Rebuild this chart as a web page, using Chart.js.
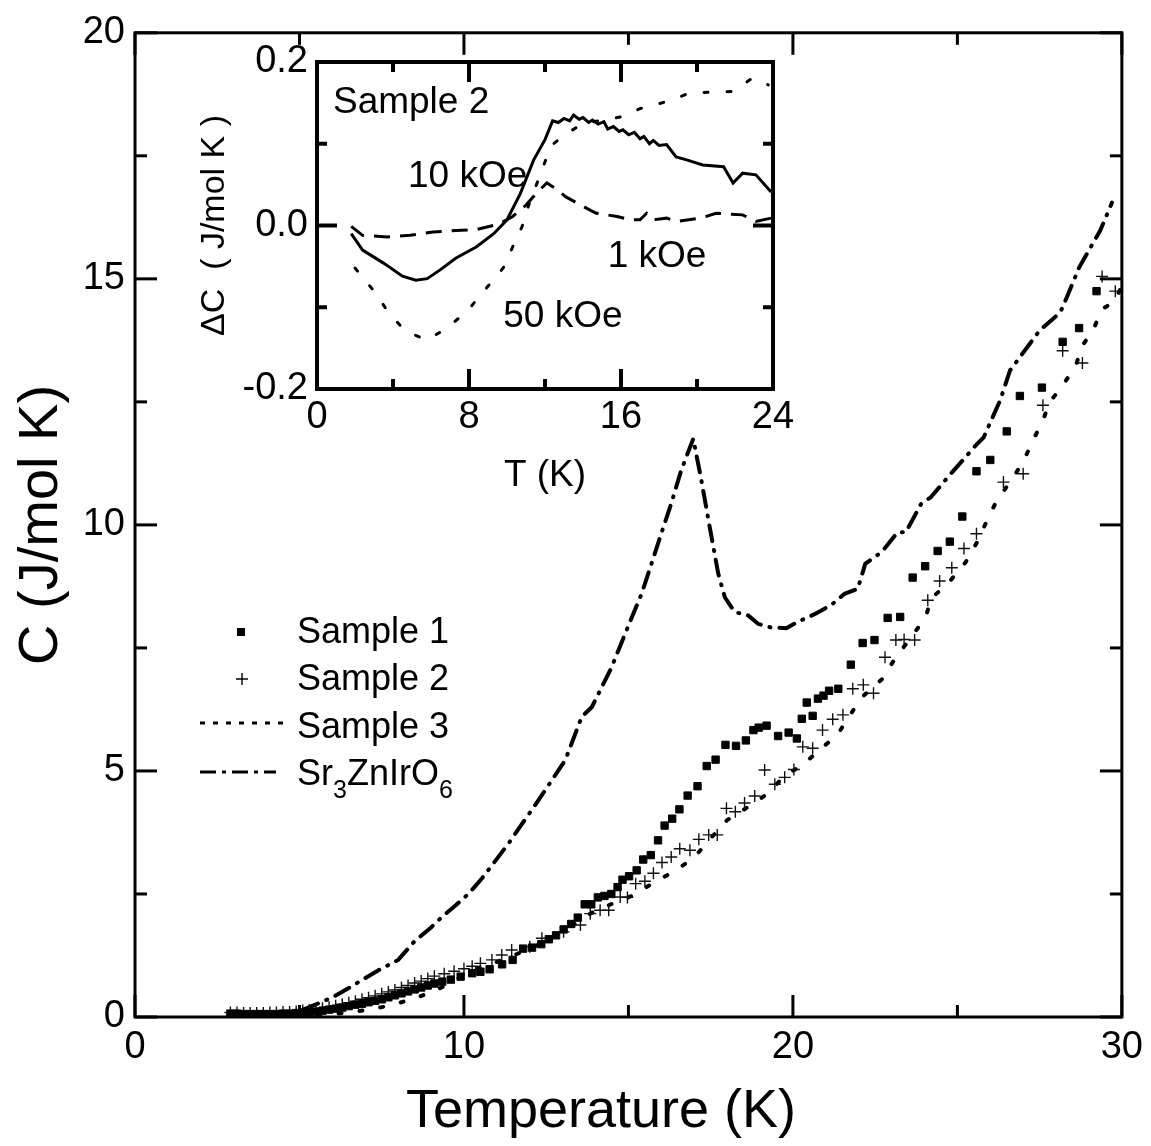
<!DOCTYPE html>
<html>
<head>
<meta charset="utf-8">
<script src="https://cdn.jsdelivr.net/npm/chart.js@4.4.0/dist/chart.umd.min.js"></script>
<style>
  html, body { margin: 0; padding: 0; background: #fff; }
  #wrap { position: relative; width: 1151px; height: 1146px; }
  #main { position: absolute; left: 0; top: 0; }
  #inset { position: absolute; left: 190px; top: 30px; }
</style>
</head>
<body>
<div id="wrap">
  <canvas id="main" width="1151" height="1146"></canvas>
  <canvas id="inset" width="620" height="480"></canvas>
</div>
<script>
const FONT = '"Liberation Sans", Arial, sans-serif';

// ---------- main plot: C vs T ----------
const s1T = [2.9, 3.1, 3.3, 3.5, 3.7, 3.9, 4.1, 4.3, 4.5, 4.7, 4.9, 5.1, 5.3, 5.5, 5.7, 5.9, 6.1, 6.3, 6.5, 6.7, 6.9, 7.1, 7.3, 7.5, 7.7, 7.9, 8.1, 8.3, 8.5, 8.7, 8.9, 9.1,
  9.34, 9.6, 9.9, 10.25, 10.5, 10.78, 11.16, 11.48, 11.8, 12.07, 12.35, 12.58, 12.8, 13.03, 13.26, 13.46, 13.67, 13.87, 14.07, 14.27, 14.48, 14.67, 14.82, 15.02,
  15.25, 15.45, 15.68, 15.9, 16.1, 16.33, 16.55, 16.8, 17.1, 17.38, 17.65, 17.95, 18.27, 18.57, 18.8, 18.96, 19.2, 19.55, 19.87, 20.12, 20.27, 20.42, 20.6, 20.76,
  20.93, 21.1, 21.38, 21.76, 22.12, 22.48, 22.88, 23.26, 23.64, 24.02, 24.4, 24.77, 25.15, 25.58, 26.0, 26.5, 26.9, 27.57, 28.2, 28.7, 29.23];
const s1C = [0.07, 0.07, 0.06, 0.06, 0.06, 0.06, 0.06, 0.06, 0.07, 0.07, 0.08, 0.09, 0.10, 0.11, 0.13, 0.15, 0.17, 0.19, 0.22, 0.25, 0.27, 0.30, 0.33, 0.36, 0.40, 0.44, 0.48, 0.52, 0.56, 0.60, 0.64, 0.68,
  0.72, 0.76, 0.82, 0.89, 0.92, 0.97, 1.07, 1.16, 1.39, 1.41, 1.48, 1.58, 1.66, 1.78, 1.89, 2.02, 2.29, 2.29, 2.43, 2.46, 2.50, 2.64, 2.79, 2.86,
  2.98, 3.20, 3.29, 3.59, 3.89, 4.03, 4.22, 4.50, 4.69, 5.10, 5.23, 5.53, 5.51, 5.62, 5.83, 5.88, 5.92, 5.71, 5.78, 5.66, 6.06, 6.39, 6.12, 6.47,
  6.53, 6.63, 6.67, 7.16, 7.60, 7.66, 8.11, 8.13, 8.93, 9.16, 9.47, 9.66, 10.17, 11.09, 11.32, 11.90, 12.62, 12.79, 13.72, 14.00, 14.75];

const s2T = [2.9, 3.1, 3.3, 3.5, 3.7, 3.9, 4.1, 4.3, 4.5, 4.7, 4.9, 5.1, 5.3, 5.5, 5.7, 5.9, 6.1, 6.3, 6.5, 6.7, 6.9, 7.1, 7.3, 7.5, 7.7, 7.9, 8.1, 8.3, 8.5, 8.7, 8.9, 9.1,
  9.4, 9.7, 10.0, 10.25, 10.5, 10.85, 11.15, 11.45, 12.0, 12.37, 13.03, 13.54, 13.84, 14.14, 14.4, 14.75, 14.97, 15.22, 15.5, 15.76, 16.02, 16.3, 16.56, 16.87,
  17.14, 17.44, 17.7, 17.98, 18.25, 18.53, 18.84, 19.14, 19.45, 19.75, 20.03, 20.3, 20.6, 20.9, 21.21, 21.52, 21.82, 22.14, 22.45, 22.8, 23.13, 23.38, 23.7,
  24.1, 24.46, 24.83, 25.2, 25.58, 26.4, 27.0, 27.6, 28.2, 28.8, 29.4, 29.8];
const s2C = [0.09, 0.09, 0.08, 0.08, 0.08, 0.08, 0.09, 0.09, 0.10, 0.10, 0.11, 0.13, 0.14, 0.16, 0.18, 0.20, 0.23, 0.26, 0.29, 0.32, 0.36, 0.39, 0.43, 0.47, 0.51, 0.55, 0.60, 0.64, 0.69, 0.73, 0.78, 0.83,
  0.88, 0.93, 0.98, 1.03, 1.09, 1.16, 1.26, 1.36, 1.43, 1.60, 1.73, 1.87, 2.10, 2.17, 2.17, 2.44, 2.43, 2.71, 2.76, 2.92, 3.14, 3.25, 3.42, 3.39,
  3.61, 3.70, 3.70, 4.24, 4.17, 4.35, 4.49, 5.02, 4.73, 4.87, 5.03, 5.49, 5.46, 5.83, 6.05, 6.14, 6.67, 6.75, 6.58, 7.31, 7.66, 7.67, 7.66,
  8.47, 8.86, 9.13, 9.52, 9.82, 10.87, 11.04, 12.43, 13.54, 13.29, 15.05, 14.75];

const s3T = [3.0, 4.0, 5.0, 5.5, 6.0, 6.5, 7.0, 7.5, 8.0, 8.5, 9.0, 9.5, 9.85, 10.2, 10.85, 11.5, 12.2, 13.0, 13.5, 13.84, 14.5, 15.1, 15.7, 16.36, 16.97,
  17.5, 18.0, 18.64, 19.24, 19.75, 20.3, 20.86, 21.34, 21.7, 22.1, 22.7, 23.1, 23.6, 24.04, 24.2, 24.75, 25.25, 25.6, 25.9, 26.2, 26.6, 27.0, 27.3, 27.6,
  27.8, 28.2, 28.6, 28.8, 29.14, 29.4, 29.75, 30.0];
const s3C = [0.02, 0.02, 0.03, 0.04, 0.06, 0.09, 0.14, 0.20, 0.28, 0.38, 0.50, 0.66, 0.79, 0.95, 1.08, 1.25, 1.45, 1.72, 1.95, 2.10, 2.30, 2.46, 2.70, 2.95, 3.22,
  3.63, 4.00, 4.27, 4.54, 4.91, 5.12, 5.46, 5.72, 6.10, 6.50, 6.86, 7.28, 7.72, 8.13, 8.50, 8.84, 9.24, 9.65, 10.09, 10.50, 10.87, 11.28, 11.72, 12.12,
  12.49, 12.83, 13.24, 13.64, 13.98, 14.39, 14.52, 14.85];

const srT = [3.0, 4.0, 4.6, 5.0, 5.3, 6.0, 6.5, 7.4, 8.0, 8.5, 9.0, 9.34, 9.75, 10.15, 10.55, 10.86, 11.36, 11.77, 12.2, 12.47, 13.08, 13.58, 13.89, 14.49,
  14.9, 15.4, 15.7, 16.0, 16.3, 16.6, 16.97, 17.2, 17.47, 17.73, 17.93, 18.23, 18.64, 18.94, 19.3, 19.8, 20.15, 20.7, 21.16, 21.57, 21.97, 22.2, 22.7,
  23.18, 23.43, 23.9, 24.19, 24.8, 25.2, 25.55, 25.8, 26.3, 26.6, 26.9, 27.5, 28.13, 28.33, 28.7, 29.34, 29.7];
const srC = [0.03, 0.05, 0.08, 0.12, 0.20, 0.40, 0.59, 0.95, 1.16, 1.54, 1.82, 2.04, 2.27, 2.51, 2.82, 3.09, 3.53, 3.93, 4.34, 4.61, 5.22, 6.10, 6.30, 7.11,
  7.79, 8.60, 9.21, 9.83, 10.43, 11.10, 11.75, 10.97, 9.96, 9.01, 8.53, 8.23, 8.16, 7.99, 7.92, 7.90, 8.03, 8.20, 8.37, 8.60, 8.70, 9.21, 9.45,
  9.85, 9.85, 10.43, 10.56, 11.04, 11.34, 11.61, 11.78, 12.53, 13.14, 13.41, 13.95, 14.32, 14.63, 15.23, 15.98, 16.55];

const mainXMajor = [0, 10, 20, 30];
const mainXMinor = [5, 15, 25];
const mainYMajor = [0, 5, 10, 15, 20];
const mainYMinor = [2.5, 7.5, 12.5, 17.5];

// ---------- inset: delta C vs T (Sample 2) ----------
const in10T = [1.8, 2.4, 3.5, 4.5, 5.2, 5.8, 6.5, 7.3, 8.4, 9.3, 10.0, 10.7, 11.4, 12.0, 12.4, 12.7, 13.0, 13.3, 13.5, 13.8, 14.0, 14.3, 14.5, 14.8, 15.1,
  15.3, 15.6, 15.9, 16.1, 16.4, 16.7, 17.0, 17.2, 17.5, 17.7, 18.0, 18.4, 18.9, 19.5, 20.3, 21.4, 21.9, 22.4, 23.1, 23.9];
const in10C = [-0.010, -0.030, -0.046, -0.062, -0.067, -0.065, -0.054, -0.040, -0.026, -0.010, 0.007, 0.039, 0.080, 0.105, 0.128, 0.126, 0.131, 0.128, 0.135, 0.130, 0.132, 0.126, 0.129, 0.124, 0.127,
  0.118, 0.121, 0.115, 0.117, 0.111, 0.114, 0.106, 0.109, 0.100, 0.104, 0.098, 0.099, 0.084, 0.080, 0.074, 0.072, 0.052, 0.064, 0.062, 0.041];

const in1T = [1.8, 2.4, 3.7, 4.9, 6.1, 7.3, 8.4, 9.6, 10.3, 11.0, 11.6, 12.1, 12.5, 13.1, 14.2, 14.7, 15.8, 16.5, 17.0, 17.35, 17.7, 18.4, 18.9, 20.2, 21.0, 22.4, 23.1, 23.9];
const in1C = [-0.001, -0.012, -0.014, -0.012, -0.008, -0.006, -0.005, 0.002, 0.011, 0.025, 0.041, 0.052, 0.046, 0.035, 0.021, 0.015, 0.011, 0.007, 0.007, 0.015, 0.007, 0.009, 0.005, 0.009, 0.015, 0.013, 0.005, 0.009];

const in50T = [2.0, 3.1, 3.8, 4.7, 5.8, 6.8, 7.9, 8.9, 9.8, 10.3, 10.8, 11.2, 11.65, 12.1, 12.45, 13.05, 14.0, 15.1, 16.0, 17.0, 18.0, 18.6, 19.6, 20.7, 21.9, 22.9, 23.75];
const in50C = [-0.052, -0.083, -0.108, -0.130, -0.140, -0.126, -0.105, -0.077, -0.052, -0.026, -0.001, 0.029, 0.056, 0.084, 0.100, 0.111, 0.125, 0.129, 0.133, 0.143, 0.149, 0.153, 0.162, 0.163, 0.164, 0.180, 0.172];

const inXMajor = [0, 8, 16, 24];
const inXMinor = [4, 12, 20];
const inYMajor = [-0.2, 0, 0.2];
const inYMinor = [-0.1, 0.1];

// text placed in the inset, anchored in data units (left edge, baseline)
const inNotes = [
  { text: 'Sample 2', x: 0.84, y: 0.138 },
  { text: '10 kOe', x: 4.79, y: 0.047 },
  { text: '1 kOe', x: 15.3, y: -0.051 },
  { text: '50 kOe', x: 9.8, y: -0.124 }
];

const pts = (xs, ys) => xs.map((x, i) => ({ x: x, y: ys[i] }));

// inward ticks on all four sides + box frame
const frameTicks = {
  id: 'frameTicks',
  afterDatasetsDraw(chart, args, o) {
    const { ctx, chartArea: a } = chart;
    const x = chart.scales.x, y = chart.scales.y;
    ctx.save();
    ctx.strokeStyle = '#000';
    ctx.lineWidth = o.tickWidth;
    ctx.lineCap = 'butt';
    const seg = (x1, y1, x2, y2) => { ctx.beginPath(); ctx.moveTo(x1, y1); ctx.lineTo(x2, y2); ctx.stroke(); };
    const xt = (vals, len) => vals.forEach(v => {
      const p = x.getPixelForValue(v);
      seg(p, a.bottom, p, a.bottom - len);
      seg(p, a.top, p, a.top + len);
    });
    const yt = (vals, len) => vals.forEach(v => {
      const p = y.getPixelForValue(v);
      seg(a.left, p, a.left + len, p);
      seg(a.right, p, a.right - len, p);
    });
    xt(o.xMajor, o.major); xt(o.xMinor, o.minor);
    yt(o.yMajor, o.major); yt(o.yMinor, o.minor);
    ctx.lineWidth = o.frameWidth;
    ctx.strokeRect(a.left, a.top, a.right - a.left, a.bottom - a.top);
    ctx.restore();
  }
};

// hand-made legend like the original figure, plus the x title
const legendBox = {
  id: 'legendBox',
  afterDraw(chart) {
    const ctx = chart.ctx;
    ctx.save();
    ctx.fillStyle = '#000';
    ctx.strokeStyle = '#000';
    // sample 1: square
    ctx.fillRect(237, 628, 8, 8);
    // sample 2: plus
    ctx.lineWidth = 1.4;
    ctx.beginPath();
    ctx.moveTo(236, 679); ctx.lineTo(248, 679);
    ctx.moveTo(242, 673); ctx.lineTo(242, 685);
    ctx.stroke();
    // sample 3: dotted
    ctx.lineWidth = 3;
    ctx.setLineDash([5, 8]);
    ctx.beginPath(); ctx.moveTo(200, 723); ctx.lineTo(286, 723); ctx.stroke();
    // Sr3ZnIrO6: dash-dot
    ctx.setLineDash([16, 6, 4, 6]);
    ctx.beginPath(); ctx.moveTo(200, 772); ctx.lineTo(276, 772); ctx.stroke();
    ctx.setLineDash([]);

    ctx.font = '36px ' + FONT;
    ctx.textBaseline = 'alphabetic';
    ctx.textAlign = 'left';
    ctx.fillText('Sample 1', 297, 643);
    ctx.fillText('Sample 2', 297, 690);
    ctx.fillText('Sample 3', 297, 738);
    let cx = 297;
    const part = (t, size, dy) => {
      ctx.font = size + 'px ' + FONT;
      ctx.fillText(t, cx, 785 + dy);
      cx += ctx.measureText(t).width;
    };
    part('Sr', 36, 0); part('3', 25, 13); part('ZnIrO', 36, 0); part('6', 25, 13);

    // x axis title
    ctx.font = '54px ' + FONT;
    ctx.textAlign = 'center';
    ctx.textBaseline = 'middle';
    ctx.fillText('Temperature (K)', 601, 1112);
    ctx.restore();
  }
};

const notes = {
  id: 'notes',
  afterDraw(chart) {
    const ctx = chart.ctx;
    ctx.save();
    ctx.fillStyle = '#000';
    ctx.font = '37px ' + FONT;
    ctx.textAlign = 'left';
    ctx.textBaseline = 'alphabetic';
    inNotes.forEach(n => ctx.fillText(n.text, chart.scales.x.getPixelForValue(n.x), chart.scales.y.getPixelForValue(n.y)));
    ctx.restore();
  }
};

new Chart(document.getElementById('main'), {
  type: 'scatter',
  data: {
    datasets: [
      { label: 'Sample 1', data: pts(s1T, s1C), pointStyle: 'rect', pointRadius: 5.2, backgroundColor: '#000', borderColor: '#000', borderWidth: 1, showLine: false },
      { label: 'Sample 2', data: pts(s2T, s2C), pointStyle: 'cross', pointRadius: 6, borderColor: '#111', borderWidth: 1.4, showLine: false },
      { label: 'Sample 3', data: pts(s3T, s3C), showLine: true, pointRadius: 0, borderColor: '#000', borderWidth: 4, borderDash: [3, 18], borderCapStyle: 'round', tension: 0 },
      { label: 'Sr3ZnIrO6', data: pts(srT, srC), showLine: true, pointRadius: 0, borderColor: '#000', borderWidth: 4, borderDash: [16, 9, 1, 9], borderCapStyle: 'round', tension: 0 }
    ]
  },
  options: {
    responsive: false,
    animation: false,
    layout: { padding: { top: 32, right: 26, left: 0, bottom: 0 } },
    plugins: {
      legend: { display: false },
      tooltip: { enabled: false },
      frameTicks: { xMajor: mainXMajor, xMinor: mainXMinor, yMajor: mainYMajor, yMinor: mainYMinor, major: 22, minor: 12, tickWidth: 3, frameWidth: 3 }
    },
    scales: {
      x: {
        type: 'linear', min: 0, max: 30,
        ticks: { stepSize: 10, color: '#000', font: { family: FONT, size: 38 }, padding: 8 },
        grid: { display: false, drawTicks: false },
        border: { display: false },
        title: { display: false },
        afterFit(s) { s.height = 129; }
      },
      y: {
        type: 'linear', min: 0, max: 20,
        ticks: { stepSize: 5, color: '#000', font: { family: FONT, size: 38 }, padding: 10 },
        grid: { display: false, drawTicks: false },
        border: { display: false },
        title: { display: true, text: 'C (J/mol K)', color: '#000', font: { family: FONT, size: 56 }, padding: { top: 8, bottom: 0 } },
        afterFit(s) { s.width = 135; }
      }
    }
  },
  plugins: [frameTicks, legendBox]
});

new Chart(document.getElementById('inset'), {
  type: 'scatter',
  data: {
    datasets: [
      { label: '10 kOe', data: pts(in10T, in10C), showLine: true, pointRadius: 0, borderColor: '#000', borderWidth: 3, tension: 0 },
      { label: '1 kOe', data: pts(in1T, in1C), showLine: true, pointRadius: 0, borderColor: '#000', borderWidth: 3, borderDash: [16, 10], tension: 0 },
      { label: '50 kOe', data: pts(in50T, in50C), showLine: true, pointRadius: 0, borderColor: '#000', borderWidth: 3, borderDash: [4, 19], borderCapStyle: 'round', tension: 0 }
    ]
  },
  options: {
    responsive: false,
    animation: false,
    layout: { padding: { top: 32, right: 37, left: 0, bottom: 0 } },
    plugins: {
      legend: { display: false },
      tooltip: { enabled: false },
      frameTicks: { xMajor: inXMajor, xMinor: inXMinor, yMajor: inYMajor, yMinor: inYMinor, major: 20, minor: 10, tickWidth: 4, frameWidth: 4 }
    },
    scales: {
      x: {
        type: 'linear', min: 0, max: 24,
        ticks: { stepSize: 8, color: '#000', font: { family: FONT, size: 38 }, padding: 6 },
        grid: { display: false, drawTicks: false },
        border: { display: false },
        title: { display: true, text: 'T (K)', color: '#000', font: { family: FONT, size: 37 }, padding: { top: 0, bottom: 12 } },
        afterFit(s) { s.height = 121; }
      },
      y: {
        type: 'linear', min: -0.2, max: 0.2,
        ticks: { stepSize: 0.2, color: '#000', font: { family: FONT, size: 38 }, padding: 9, callback: v => v.toFixed(1) },
        grid: { display: false, drawTicks: false },
        border: { display: false },
        title: { display: true, text: '\u0394C  ( J/mol K )', color: '#000', font: { family: FONT, size: 34 }, padding: { top: 4, bottom: 0 } },
        afterFit(s) { s.width = 127; }
      }
    }
  },
  plugins: [frameTicks, notes]
});
</script>
</body>
</html>
